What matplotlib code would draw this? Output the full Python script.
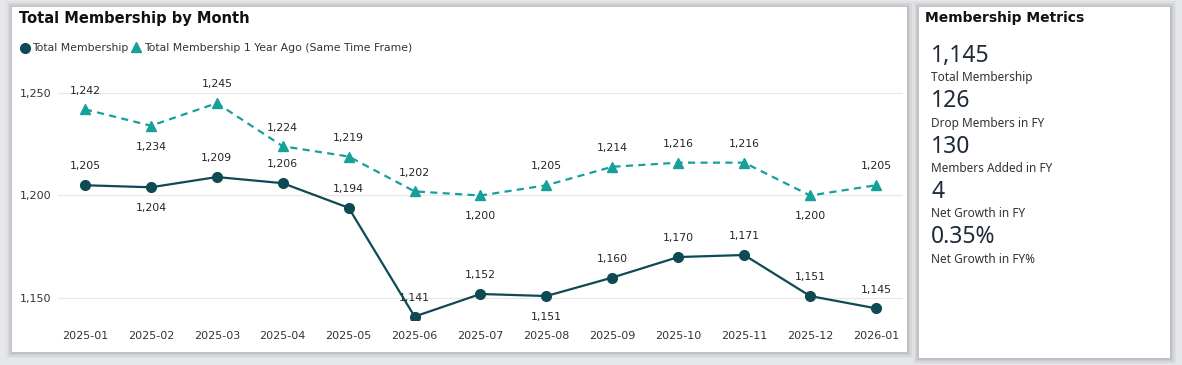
import matplotlib
matplotlib.use("Agg")
import matplotlib.pyplot as plt
from matplotlib.patches import Rectangle

months = ["2025-01", "2025-02", "2025-03", "2025-04", "2025-05", "2025-06", "2025-07",
          "2025-08", "2025-09", "2025-10", "2025-11", "2025-12", "2026-01"]
total_membership = [1205, 1204, 1209, 1206, 1194, 1141, 1152, 1151, 1160, 1170, 1171, 1151, 1145]
membership_1y_ago = [1242, 1234, 1245, 1224, 1219, 1202, 1200, 1205, 1214, 1216, 1216, 1200, 1205]
yticks = [1150, 1200, 1250]
metric_values = ["1,145", "126", "130", "4", "0.35%"]
metric_labels = ["Total Membership", "Drop Members in FY", "Members Added in FY",
                 "Net Growth in FY", "Net Growth in FY%"]

# label placement (style): +1 above, -1 below
tm_pos = [1, -1, 1, 1, 1, 1, 1, -1, 1, 1, 1, 1, 1]
ly_pos = [1, -1, 1, 1, 1, 1, -1, 1, 1, 1, 1, -1, 1]

W, H = 1182, 365
fig = plt.figure(figsize=(W / 100, H / 100), dpi=100)
fig.patch.set_facecolor("#e6e7e9")

def fx(x): return x / W
def fy(y): return 1 - y / H

def panel(x0, y0, x1, y1):
    for i, a in enumerate([0.05, 0.07, 0.09, 0.12]):
        d = 6 - i * 1.5
        fig.patches.append(Rectangle((fx(x0 - d), fy(y1 + d)), fx(x1 - x0 + 2 * d), (y1 - y0 + 2 * d) / H,
                                     transform=fig.transFigure, facecolor="#6b6e75", alpha=a,
                                     edgecolor="none", zorder=0))
    fig.patches.append(Rectangle((fx(x0), fy(y1)), fx(x1 - x0), (y1 - y0) / H,
                                 transform=fig.transFigure, facecolor="white",
                                 edgecolor="none", zorder=1))

panel(12, 7, 907, 352)
panel(919, 7, 1170, 358)

ax_l, ax_r, ax_t, ax_b = 58, 903, 70, 320
ax = fig.add_axes([fx(ax_l), fy(ax_b), fx(ax_r - ax_l), (ax_b - ax_t) / H])
ax.set_facecolor("none")
ax.set_zorder(2)
x = list(range(len(months)))
step = (876 - 85) / 12
ax.set_xlim(-(85 - ax_l) / step, 12 + (ax_r - 876) / step)
ppu = (196 - 93) / 50
ax.set_ylim(1150 - (ax_b - 298) / ppu, 1250 + (93 - ax_t) / ppu)

dark = "#0e4a53"
teal = "#17a09b"
lblc = "#252423"

ax.plot(x, membership_1y_ago, color=teal, lw=1.6, ls=(0, (3.2, 2.4)), marker="^",
        ms=7, zorder=3)
ax.plot(x, total_membership, color=dark, lw=1.6, marker="o", ms=7, zorder=4)

lfont = dict(fontsize=7.8, color=lblc, family="DejaVu Sans", ha="center", va="center")
for xi, v, p in zip(x, total_membership, tm_pos):
    ax.annotate(f"{v:,}", (xi, v), xytext=(0, 13.5 if p > 0 else -15),
                textcoords="offset points", **lfont)
for xi, v, p in zip(x, membership_1y_ago, ly_pos):
    ax.annotate(f"{v:,}", (xi, v), xytext=(0, 13.5 if p > 0 else -15),
                textcoords="offset points", **lfont)

ax.set_yticks(yticks)
ax.set_yticklabels([f"{t:,}" for t in yticks])
ax.set_xticks(x)
ax.set_xticklabels(months)
ax.tick_params(length=0, labelsize=8, labelcolor="#333333", pad=8)
ax.tick_params(axis="y", pad=5)
ax.grid(axis="y", color="#e8e8e8", lw=0.9)
ax.set_axisbelow(True)
for s in ax.spines.values():
    s.set_visible(False)

fig.text(fx(19), fy(18), "Total Membership by Month", fontsize=10.5, fontweight="bold",
         color="#111111", va="center", ha="left", family="DejaVu Sans", zorder=5)
fig.lines.append(plt.Line2D([fx(25)], [fy(48)], marker="o", ms=7, color=dark,
                            transform=fig.transFigure, zorder=5))
fig.text(fx(32), fy(48), "Total Membership", fontsize=7.8, color="#333333", va="center",
         ha="left", zorder=5)
fig.lines.append(plt.Line2D([fx(136)], [fy(47)], marker="^", ms=7, color=teal,
                            transform=fig.transFigure, zorder=5))
fig.text(fx(144), fy(48), "Total Membership 1 Year Ago (Same Time Frame)", fontsize=7.8,
         color="#333333", va="center", ha="left", zorder=5)

fig.text(fx(925), fy(18), "Membership Metrics", fontsize=10, fontweight="bold",
         color="#111111", va="center", ha="left", zorder=5)
for i, (v, l) in enumerate(zip(metric_values, metric_labels)):
    yv = 56 + i * 45.3
    fig.text(fx(931), fy(yv), v, fontsize=16.5, color="#1e2a3a", va="center", ha="left",
             family="Noto Sans", zorder=5)
    fig.text(fx(931), fy(yv + 22), l, fontsize=8.5, color="#333333", va="center", ha="left",
             family="Noto Sans", zorder=5)

fig.savefig("out.png", dpi=100, facecolor=fig.get_facecolor())
